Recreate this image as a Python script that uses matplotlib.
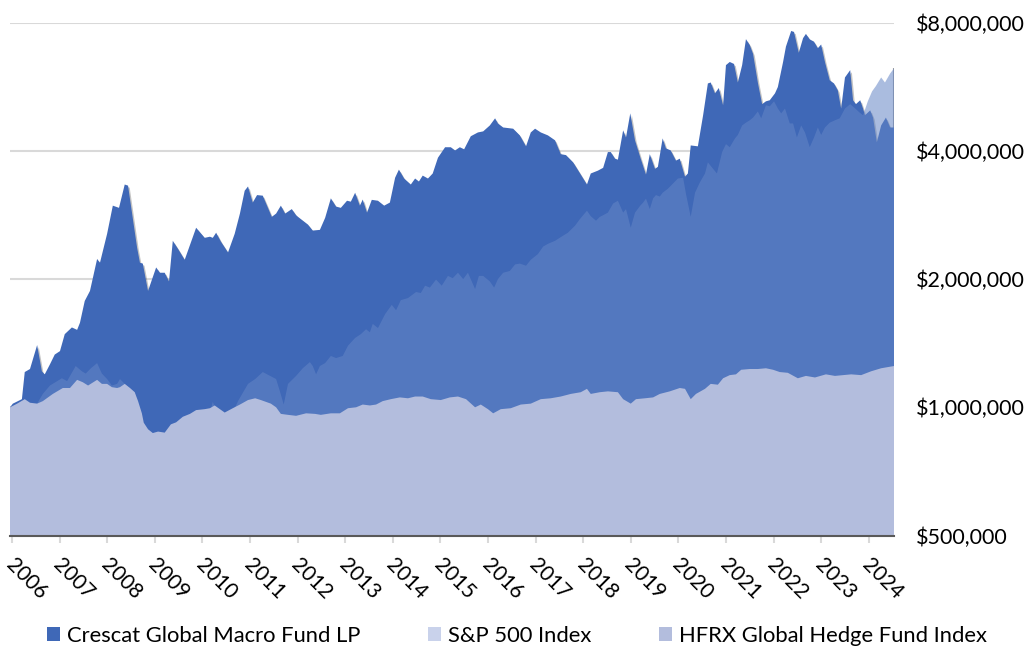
import numpy as np
import matplotlib
matplotlib.use("Agg")
import matplotlib.pyplot as plt
from matplotlib.patches import Patch
from matplotlib import patheffects as pe
from matplotlib import transforms as mtransforms
from matplotlib.ticker import FixedLocator, NullLocator, FuncFormatter

plt.rcParams['font.family'] = ['Lato', 'DejaVu Sans']

# growth of $1,000,000 (values in thousands of $), dates as decimal years
crescat_t = [2005.96, 2006.02, 2006.21, 2006.27, 2006.38, 2006.53, 2006.63, 2006.69, 2006.80, 2006.90,
             2007.01, 2007.11, 2007.26, 2007.37, 2007.43, 2007.53, 2007.64, 2007.79, 2007.85, 2008.00,
             2008.12, 2008.25, 2008.37, 2008.44, 2008.63, 2008.69, 2008.75, 2008.86, 2009.03, 2009.11,
             2009.21, 2009.30, 2009.38, 2009.49, 2009.63, 2009.87, 2010.05, 2010.16, 2010.22, 2010.29,
             2010.39, 2010.54, 2010.68, 2010.79, 2010.89, 2010.96, 2011.06, 2011.15, 2011.27, 2011.46,
             2011.55, 2011.65, 2011.74, 2011.88, 2011.97, 2012.01, 2012.22, 2012.32, 2012.47, 2012.58,
             2012.70, 2012.81, 2012.91, 2013.04, 2013.12, 2013.21, 2013.31, 2013.37, 2013.46, 2013.56,
             2013.69, 2013.82, 2013.94, 2014.05, 2014.13, 2014.24, 2014.38, 2014.47, 2014.55, 2014.63,
             2014.74, 2014.84, 2014.95, 2015.10, 2015.22, 2015.31, 2015.41, 2015.50, 2015.64, 2015.79,
             2015.90, 2016.04, 2016.15, 2016.21, 2016.32, 2016.53, 2016.67, 2016.80, 2016.90, 2016.99,
             2017.11, 2017.26, 2017.41, 2017.53, 2017.64, 2017.79, 2017.95, 2018.08, 2018.16, 2018.31,
             2018.42, 2018.52, 2018.58, 2018.67, 2018.73, 2018.84, 2018.90, 2018.99, 2019.09, 2019.21,
             2019.32, 2019.40, 2019.51, 2019.57, 2019.67, 2019.74, 2019.84, 2019.95, 2020.03, 2020.14,
             2020.20, 2020.26, 2020.41, 2020.52, 2020.62, 2020.68, 2020.77, 2020.85, 2020.94, 2021.00,
             2021.08, 2021.17, 2021.25, 2021.34, 2021.42, 2021.50, 2021.57, 2021.67, 2021.76, 2021.84,
             2021.92, 2022.03, 2022.09, 2022.20, 2022.26, 2022.37, 2022.43, 2022.53, 2022.62, 2022.68,
             2022.76, 2022.85, 2022.93, 2023.00, 2023.08, 2023.18, 2023.27, 2023.35, 2023.42, 2023.50,
             2023.61, 2023.67, 2023.73, 2023.82, 2023.88, 2023.92, 2024.03, 2024.09, 2024.17, 2024.26,
             2024.36, 2024.45, 2024.53]
crescat_v = [1000, 1020, 1045, 1210, 1230, 1400, 1215, 1195, 1262, 1330,
             1355, 1485, 1540, 1520, 1580, 1777, 1876, 2230, 2185, 2555,
             2975, 2940, 3335, 3315, 2370, 2185, 2175, 1876, 2130, 2070,
             2070, 1975, 2460, 2355, 2220, 2640, 2500, 2515, 2500, 2570,
             2450, 2310, 2555, 2850, 3225, 3300, 3025, 3150, 3140, 2800,
             2850, 2975, 2850, 2920, 2825, 2800, 2685, 2600, 2610, 2785,
             3095, 2960, 2940, 3055, 3040, 3190, 2975, 3075, 2865, 3070,
             3055, 2975, 3025, 3460, 3615, 3445, 3335, 3445, 3390, 3500,
             3445, 3540, 3855, 4080, 4080, 4010, 4080, 4035, 4330, 4420,
             4445, 4590, 4770, 4640, 4540, 4510, 4350, 4100, 4420, 4510,
             4420, 4350, 4235, 3930, 3910, 3760, 3520, 3335, 3540, 3595,
             3650, 3975, 3975, 3835, 3815, 4470, 4300, 4900, 4235, 3835,
             3520, 3930, 3630, 3670, 4280, 4055, 4010, 3795, 3835, 3480,
             3540, 4120, 4100, 4850, 5760, 5790, 5460, 5620, 5120, 6360,
             6470, 6400, 5790, 6360, 7320, 7090, 6760, 5790, 5150, 5230,
             5260, 5460, 5650, 6470, 7030, 7650, 7610, 6800, 7360, 7530,
             7310, 7220, 6970, 7110, 6470, 5860, 5760, 5550, 5030, 5950,
             6190, 5260, 5150, 5260, 5030, 4850, 4980, 4790, 4190, 4590,
             4790, 4540, 4540]

sp_t = [2005.96, 2006.53, 2006.65, 2006.80, 2007.05, 2007.16, 2007.34, 2007.47, 2007.55, 2007.66,
        2007.79, 2007.89, 2008.00, 2008.10, 2008.21, 2008.27, 2008.37, 2008.58, 2008.70, 2008.80,
        2008.90, 2009.00, 2009.15, 2009.30, 2009.50, 2009.70, 2009.90, 2010.10, 2010.22, 2010.35,
        2010.50, 2010.62, 2010.75, 2010.96, 2011.11, 2011.27, 2011.55, 2011.63, 2011.71, 2011.80,
        2011.97, 2012.11, 2012.26, 2012.32, 2012.39, 2012.47, 2012.58, 2012.70, 2012.81, 2012.95,
        2013.06, 2013.21, 2013.33, 2013.44, 2013.52, 2013.58, 2013.69, 2013.84, 2013.98, 2014.07,
        2014.17, 2014.32, 2014.49, 2014.59, 2014.68, 2014.78, 2014.91, 2015.03, 2015.16, 2015.26,
        2015.37, 2015.48, 2015.58, 2015.66, 2015.73, 2015.81, 2015.90, 2016.04, 2016.13, 2016.21,
        2016.32, 2016.46, 2016.57, 2016.67, 2016.80, 2016.90, 2017.05, 2017.16, 2017.26, 2017.41,
        2017.58, 2017.68, 2017.83, 2017.93, 2018.08, 2018.16, 2018.27, 2018.35, 2018.42, 2018.52,
        2018.63, 2018.73, 2018.84, 2018.90, 2019.00, 2019.09, 2019.20, 2019.26, 2019.32, 2019.40,
        2019.47, 2019.53, 2019.61, 2019.67, 2019.78, 2019.89, 2019.99, 2020.10, 2020.16, 2020.26,
        2020.35, 2020.45, 2020.56, 2020.62, 2020.73, 2020.81, 2020.92, 2021.00, 2021.08, 2021.19,
        2021.25, 2021.34, 2021.42, 2021.50, 2021.57, 2021.67, 2021.74, 2021.84, 2021.92, 2022.01,
        2022.09, 2022.16, 2022.24, 2022.34, 2022.41, 2022.49, 2022.58, 2022.66, 2022.76, 2022.85,
        2022.93, 2023.00, 2023.08, 2023.18, 2023.29, 2023.39, 2023.50, 2023.61, 2023.69, 2023.80,
        2023.88, 2023.98, 2024.07, 2024.15, 2024.26, 2024.34, 2024.45, 2024.53]
sp_v = [1000, 1020, 1075, 1125, 1170, 1152, 1250, 1215, 1200, 1235,
        1270, 1200, 1165, 1125, 1135, 1165, 1135, 1085, 960, 780,
        720, 700, 580, 650, 760, 830, 880, 910, 1030, 940,
        930, 960, 1034, 1135, 1165, 1210, 1165, 1090, 1015, 1135,
        1185, 1235, 1277, 1250, 1195, 1250, 1270, 1320, 1305, 1320,
        1395, 1455, 1485, 1525, 1500, 1570, 1535, 1655, 1740, 1690,
        1785, 1805, 1865, 1855, 1930, 1910, 1995, 1930, 2035, 2010,
        2070, 2000, 2070, 1975, 1895, 2035, 2035, 1975, 1910, 2000,
        2070, 2090, 2165, 2175, 2150, 2220, 2290, 2385, 2420, 2460,
        2530, 2570, 2670, 2765, 2895, 2810, 2742, 2800, 2825, 2865,
        3010, 3055, 2865, 2920, 2640, 2865, 2975, 3025, 3090, 2920,
        3095, 3150, 3125, 3190, 3260, 3355, 3445, 3460, 3170, 2800,
        3190, 3370, 3540, 3760, 3630, 3540, 3975, 4150, 4080, 4280,
        4360, 4590, 4660, 4720, 4790, 4950, 4770, 5120, 5090, 5230,
        5030, 4900, 5030, 4640, 4640, 4300, 4590, 4420, 4080, 4300,
        4540, 4360, 4540, 4660, 4720, 4770, 5030, 5150, 5060, 4930,
        4850, 5230, 5520, 5680, 5950, 5790, 6080, 6250]

hfrx_t = [2005.96, 2006.11, 2006.27, 2006.38, 2006.53, 2006.65, 2006.86, 2007.07, 2007.22, 2007.37,
          2007.49, 2007.60, 2007.79, 2007.89, 2008.00, 2008.10, 2008.21, 2008.27, 2008.37, 2008.48,
          2008.58, 2008.65, 2008.73, 2008.77, 2008.86, 2008.96, 2009.07, 2009.21, 2009.34, 2009.45,
          2009.59, 2009.74, 2009.87, 2010.05, 2010.16, 2010.26, 2010.47, 2010.64, 2010.79, 2010.96,
          2011.11, 2011.23, 2011.44, 2011.55, 2011.65, 2011.80, 2011.97, 2012.18, 2012.37, 2012.49,
          2012.70, 2012.89, 2013.06, 2013.23, 2013.37, 2013.52, 2013.65, 2013.79, 2013.96, 2014.15,
          2014.32, 2014.47, 2014.63, 2014.80, 2015.01, 2015.20, 2015.37, 2015.54, 2015.73, 2015.85,
          2016.00, 2016.11, 2016.27, 2016.48, 2016.69, 2016.90, 2017.11, 2017.32, 2017.53, 2017.74,
          2017.95, 2018.08, 2018.16, 2018.35, 2018.52, 2018.73, 2018.84, 2019.00, 2019.11, 2019.30,
          2019.47, 2019.61, 2019.82, 2020.03, 2020.14, 2020.26, 2020.37, 2020.56, 2020.68, 2020.83,
          2020.94, 2021.08, 2021.21, 2021.32, 2021.50, 2021.67, 2021.84, 2021.99, 2022.13, 2022.30,
          2022.51, 2022.68, 2022.87, 2023.10, 2023.29, 2023.46, 2023.63, 2023.84, 2024.05, 2024.26,
          2024.53]
hfrx_v = [1000, 1020, 1045, 1025, 1020, 1034, 1075, 1110, 1110, 1160,
          1145, 1125, 1160, 1135, 1135, 1115, 1110, 1115, 1135, 1110,
          1085, 1034, 968, 920, 888, 870, 877, 872, 912, 922,
          950, 965, 985, 990, 995, 1010, 972, 995, 1015, 1040,
          1050, 1040, 1020, 1000, 965, 960, 955, 968, 965, 960,
          968, 968, 995, 1000, 1015, 1010, 1015, 1034, 1045, 1055,
          1050, 1060, 1060, 1045, 1040, 1055, 1060, 1045, 1000, 1015,
          990, 968, 990, 995, 1015, 1020, 1045, 1050, 1060, 1075,
          1085, 1105, 1075, 1085, 1090, 1085, 1045, 1020, 1045, 1050,
          1055, 1075, 1090, 1110, 1105, 1045, 1075, 1105, 1135, 1130,
          1170, 1190, 1195, 1225, 1230, 1230, 1235, 1225, 1210, 1205,
          1170, 1185, 1175, 1195, 1185, 1190, 1195, 1190, 1215, 1235,
          1250]

years = list(range(2006, 2025))
y_ticks = [500000, 1000000, 2000000, 4000000, 8000000]
series_names = ['Crescat Global Macro Fund LP', 'S&P 500 Index', 'HFRX Global Hedge Fund Index']

c_crescat = '#3F68B7'
c_sp = (101/255, 134/255, 198/255)
c_hfrx = '#B3BDDD'
c_sp_legend = '#C9D2EB'

fig = plt.figure(figsize=(10.29, 6.47), dpi=100)
ax = fig.add_axes([10/1029, 1 - 535.5/647, 884/1029, (535.5 - 22.7)/647])

cres = np.array(crescat_v) * 1000
sp = np.array(sp_v) * 1000
hf = np.array(hfrx_v) * 1000

ax.fill_between(crescat_t, cres, 1, color=c_crescat, lw=0, zorder=2,
                path_effects=[pe.SimplePatchShadow(offset=(1.2, -1.5), shadow_rgbFace='#555555', alpha=0.35),
                              pe.Normal()])
ax.fill_between(sp_t, sp, 1, color=c_sp, alpha=0.55, lw=0, zorder=3)
ax.fill_between(hfrx_t, hf, 1, color=c_hfrx, lw=0, zorder=4)
ax.vlines(sp_t[-1], y_ticks[0], sp[-1], color='#A0A0A0', lw=1.5, zorder=1)

ax.set_yscale('log')
ax.set_ylim(y_ticks[0], y_ticks[-1])
ax.set_xlim(crescat_t[0], crescat_t[-1])
ax.yaxis.set_major_locator(FixedLocator(y_ticks))
ax.yaxis.set_minor_locator(NullLocator())
ax.yaxis.set_major_formatter(FuncFormatter(lambda v, p: '${:,.0f}'.format(v)))
ax.yaxis.tick_right()
ax.tick_params(axis='y', length=0, pad=16, labelsize=15.5, labelcolor='#000000')
ax.grid(axis='y', color='#D9D9D9', lw=1.5, zorder=0)
ax.set_axisbelow(True)

ax.set_xticks(years)
ax.set_xticklabels([str(y) for y in years])
ax.tick_params(axis='x', direction='inout', length=10, width=1.5, color='#D9D9D9',
               labelsize=15, pad=9)
shift = mtransforms.ScaledTranslation(4/100, 0, fig.dpi_scale_trans)
for lbl in ax.get_xticklabels():
    lbl.set_rotation(-45)
    lbl.set_ha('left')
    lbl.set_va('top')
    lbl.set_rotation_mode('anchor')
    lbl.set_transform(lbl.get_transform() + shift)

for s in ['top', 'left', 'right']:
    ax.spines[s].set_visible(False)
ax.spines['bottom'].set_color('#595959')
ax.spines['bottom'].set_linewidth(1.5)
ax.spines['bottom'].set_zorder(6)

handles = [Patch(facecolor=c_crescat, edgecolor='none'),
           Patch(facecolor=c_sp_legend, edgecolor='none'),
           Patch(facecolor=c_hfrx, edgecolor='none')]
fig.legend(handles, series_names, loc='center', bbox_to_anchor=(517/1029, 1 - 636/647),
           ncol=3, frameon=False, fontsize=15.8, handlelength=0.6, handleheight=0.6,
           handletextpad=0.3, columnspacing=3.1, borderaxespad=0, borderpad=0)

fig.savefig('out.png', dpi=100)
